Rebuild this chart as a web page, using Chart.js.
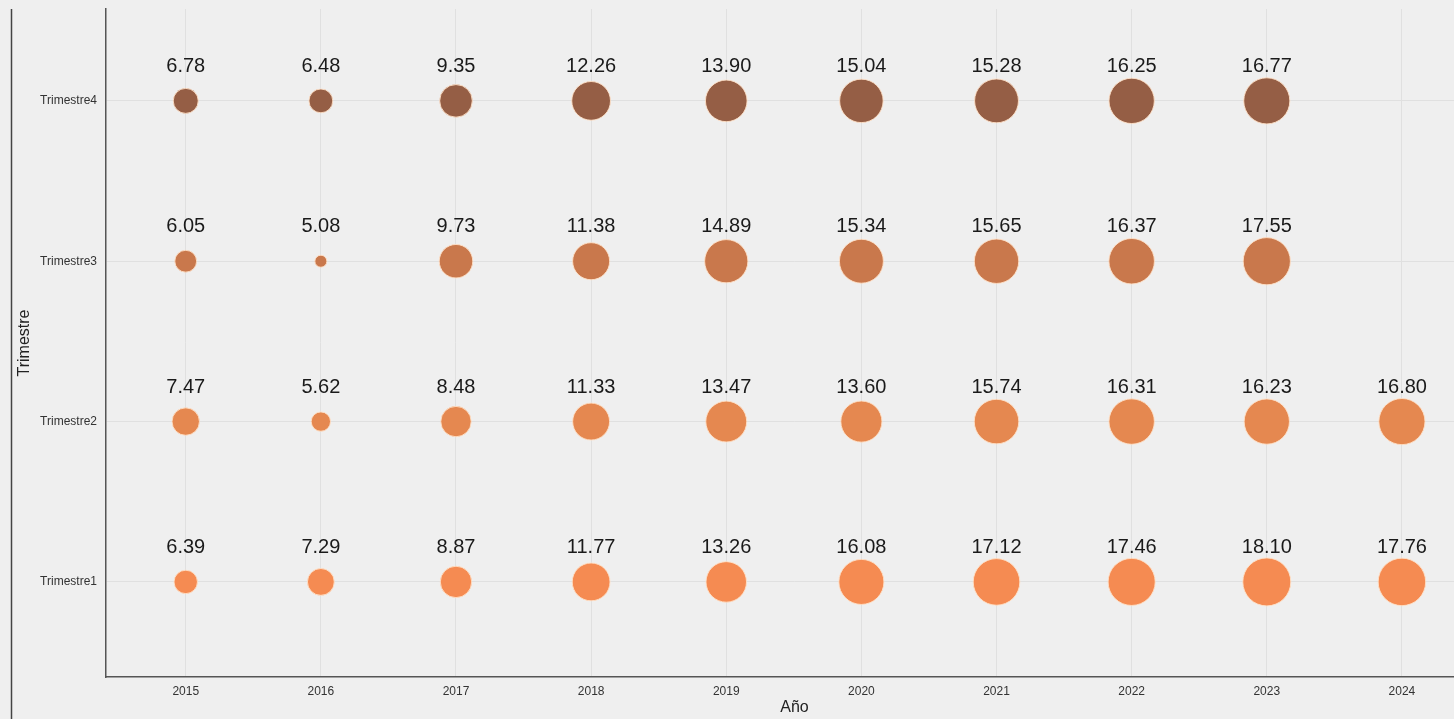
<!DOCTYPE html>
<html>
<head>
<meta charset="utf-8">
<script src="https://cdn.jsdelivr.net/npm/chart.js@4/dist/chart.umd.min.js"></script>
<style>
  html, body { margin: 0; padding: 0; background: #efefef; overflow: hidden; }
  #chart { display: block; }
</style>
</head>
<body>
<canvas id="chart" width="1483" height="719"></canvas>
<script>
// años y trimestres
const years = [2015, 2016, 2017, 2018, 2019, 2020, 2021, 2022, 2023, 2024];
const quarterLabels = ["Trimestre1", "Trimestre2", "Trimestre3", "Trimestre4"];

// valores por trimestre (2024 solo tiene T1 y T2)
const q1 = [6.39, 7.29, 8.87, 11.77, 13.26, 16.08, 17.12, 17.46, 18.10, 17.76];
const q2 = [7.47, 5.62, 8.48, 11.33, 13.47, 13.60, 15.74, 16.31, 16.23, 16.80];
const q3 = [6.05, 5.08, 9.73, 11.38, 14.89, 15.34, 15.65, 16.37, 17.55];
const q4 = [6.78, 6.48, 9.35, 12.26, 13.90, 15.04, 15.28, 16.25, 16.77];

const colors = ["#f58b52", "#e58850", "#c9784c", "#955e45"];

const allValues = [...q1, ...q2, ...q3, ...q4];
const vMin = Math.min(...allValues);
const vMax = Math.max(...allValues);

// tamaño tipo ggplot: radio ~ sqrt del valor reescalado
function sizeOf(v) {
    return 6 + 18 * Math.sqrt((v - vMin) / (vMax - vMin));
}

function buildDataset(values, q) {
    return {
        label: quarterLabels[q - 1],
        data: values.map((v, i) => ({ x: years[i], y: q, r: sizeOf(v), v: v })),
        backgroundColor: colors[q - 1],
        borderColor: "rgba(255,225,200,0.9)",
        borderWidth: 1
    };
}

const bgPlugin = {
    id: "bg",
    beforeDraw(chart) {
        const ctx = chart.ctx;
        ctx.save();
        ctx.fillStyle = "#efefef";
        ctx.fillRect(0, 0, chart.width, chart.height);
        ctx.restore();
    },
    afterDraw(chart) {
        // línea del marco a la izquierda
        const ctx = chart.ctx;
        ctx.save();
        ctx.strokeStyle = "#444";
        ctx.lineWidth = 1.5;
        ctx.beginPath();
        ctx.moveTo(11.5, chart.chartArea.top);
        ctx.lineTo(11.5, chart.height);
        ctx.stroke();
        ctx.restore();
    }
};

const labelPlugin = {
    id: "valueLabels",
    afterDatasetsDraw(chart) {
        const ctx = chart.ctx;
        ctx.save();
        ctx.font = "20px 'Liberation Sans', Arial, sans-serif";
        ctx.fillStyle = "#1a1a1a";
        ctx.textAlign = "center";
        ctx.textBaseline = "alphabetic";
        chart.data.datasets.forEach((ds, di) => {
            const meta = chart.getDatasetMeta(di);
            meta.data.forEach((el, i) => {
                ctx.fillText(ds.data[i].v.toFixed(2), el.x, el.y - 29);
            });
        });
        ctx.restore();
    }
};

document.addEventListener("DOMContentLoaded", () => {
    const canvas = document.getElementById("chart");

    new Chart(canvas, {
        type: "bubble",
        data: {
            datasets: [
                buildDataset(q1, 1),
                buildDataset(q2, 2),
                buildDataset(q3, 3),
                buildDataset(q4, 4)
            ]
        },
        options: {
            responsive: false,
            animation: false,
            layout: { autoPadding: false, padding: { top: 9, left: 0, right: 0, bottom: 0 } },
            plugins: {
                legend: { display: false },
                tooltip: { enabled: false }
            },
            scales: {
                x: {
                    type: "linear",
                    min: 2014.41,
                    max: 2024.6,
                    afterBuildTicks: s => { s.ticks = years.map(y => ({ value: y })); },
                    afterFit: s => { s.height = 42; s.paddingLeft = 0; s.paddingRight = 0; },
                    grid: { color: "#e0e0e0", lineWidth: 1, drawTicks: false },
                    border: { display: true, color: "#555", width: 1.5 },
                    ticks: {
                        padding: 7,
                        color: "#333",
                        font: { family: "'Liberation Sans', Arial, sans-serif", size: 12 },
                        callback: v => String(v)
                    },
                    title: {
                        display: true,
                        text: "Año",
                        color: "#222",
                        font: { family: "'Liberation Sans', Arial, sans-serif", size: 16 },
                        padding: { top: 0, bottom: 2 }
                    }
                },
                y: {
                    type: "linear",
                    min: 0.407,
                    max: 4.573,
                    afterBuildTicks: s => { s.ticks = [1, 2, 3, 4].map(v => ({ value: v })); },
                    afterFit: s => { s.width = 106; s.paddingTop = 0; s.paddingBottom = 0; },
                    grid: { color: "#e0e0e0", lineWidth: 1, drawTicks: false },
                    border: { display: true, color: "#555", width: 1.5 },
                    ticks: {
                        padding: 9,
                        color: "#333",
                        font: { family: "'Liberation Sans', Arial, sans-serif", size: 12 },
                        callback: v => quarterLabels[v - 1]
                    },
                    title: {
                        display: true,
                        text: "Trimestre",
                        color: "#222",
                        font: { family: "'Liberation Sans', Arial, sans-serif", size: 16 },
                        padding: { top: 15, bottom: 0 }
                    }
                }
            }
        },
        plugins: [bgPlugin, labelPlugin]
    });
});
</script>
</body>
</html>
